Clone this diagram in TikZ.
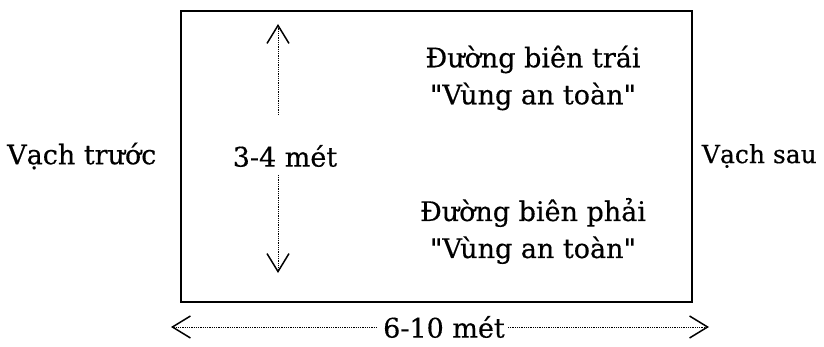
\documentclass[tikz,border=0pt]{standalone}
\usepackage{fontspec}
\setmainfont[FakeBold=0.4]{DejaVu Serif}
\usetikzlibrary{arrows.meta}
\begin{document}
\begin{tikzpicture}[x=1pt,y=-1pt,
  lbl/.style={font=\fontsize{27}{37}\selectfont, inner sep=0pt, align=center},
  field/.style={draw, line width=1.8pt, inner sep=0pt},
  measure/.style={dash pattern=on 1pt off 0.8pt, line width=0.8pt,
    -{Straight Barb[length=18pt,width=22pt,line width=1.5pt]}}]
  \useasboundingbox (0,0) rectangle (824,347);

  % playing area
  \node[field, minimum width=511pt, minimum height=291pt] (area) at (436.5,156.5) {};

  % side labels
  \node[lbl, anchor=west] (front) at (7,156) {Vạch trước};
  \node[lbl, anchor=east, font=\fontsize{25}{30}\selectfont] (back) at (817,156) {Vạch sau};

  % boundary labels
  \node[lbl] (left)  at (533,78)  {Đường biên trái\\\textquotedbl Vùng an toàn\textquotedbl};
  \node[lbl] (right) at (533,231) {Đường biên phải\\\textquotedbl Vùng an toàn\textquotedbl};

  % width measure
  \node[lbl] (w) at (285,156) {3-4 mét};
  \coordinate (wtop) at (278,24);
  \coordinate (wbot) at (278,273);
  \draw[measure] ([xshift=-7pt,yshift=41pt]w.center) -- (wtop);
  \draw[measure] ([xshift=-7pt,yshift=-19pt]w.center) -- (wbot);

  % length measure
  \node[lbl] (l) at (444,327) {6-10 mét};
  \coordinate (lleft) at (171,327);
  \coordinate (lright) at (709,327);
  \draw[measure] ([xshift=-6pt]l.west) -- (lleft);
  \draw[measure] ([xshift=3pt]l.east) -- (lright);
\end{tikzpicture}
\end{document}
